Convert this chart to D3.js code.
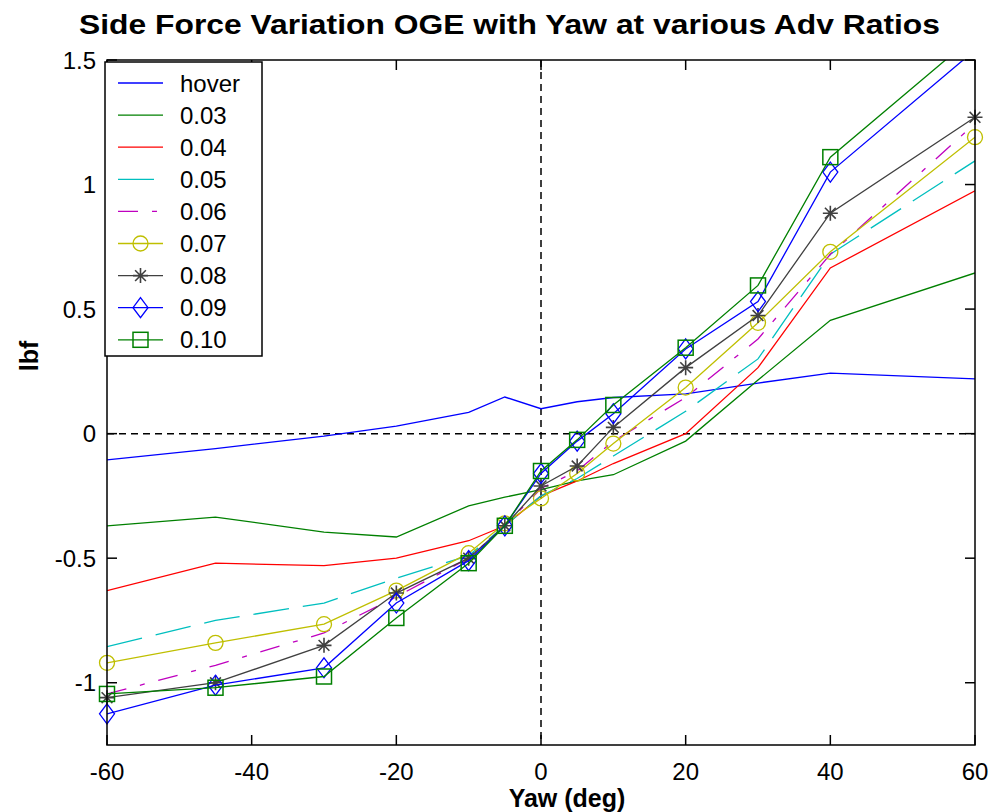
<!DOCTYPE html>
<html><head><meta charset="utf-8">
<script src="https://cdn.jsdelivr.net/npm/d3@7"></script>
<style>body{margin:0;background:#fff}svg{display:block}text{font-family:"Liberation Sans",Arial,sans-serif}</style>
</head><body>
<svg id="c" width="991" height="812"></svg>
<script>
const yaw = [-60,-45,-30,-20,-10,-5,0,5,10,20,30,40,60];
const seriesNames = ["hover","0.03","0.04","0.05","0.06","0.07","0.08","0.09","0.10"];
const hover = [-0.105,-0.06,-0.01,0.03,0.085,0.147,0.1,0.128,0.145,0.16,0.203,0.243,0.22];
const adv003 = [-0.37,-0.335,-0.395,-0.415,-0.29,-0.255,-0.225,-0.19,-0.165,-0.03,0.215,0.455,0.645];
const adv004 = [-0.63,-0.52,-0.53,-0.50,-0.43,-0.37,-0.25,-0.19,-0.12,0.0,0.265,0.665,0.975];
const adv005 = [-0.855,-0.75,-0.68,-0.58,-0.49,-0.37,-0.25,-0.18,-0.09,0.09,0.30,0.72,1.095];
const adv006 = [-1.045,-0.93,-0.80,-0.655,-0.50,-0.37,-0.22,-0.15,-0.03,0.145,0.38,0.72,1.245];
const adv007 = [-0.92,-0.84,-0.765,-0.63,-0.48,-0.36,-0.26,-0.16,-0.04,0.185,0.445,0.73,1.19];
const adv008 = [-1.06,-1.0,-0.85,-0.64,-0.50,-0.37,-0.21,-0.13,0.025,0.265,0.474,0.885,1.27];
const adv009 = [-1.125,-1.01,-0.94,-0.68,-0.51,-0.37,-0.16,-0.03,0.08,0.34,0.53,1.05,1.54];
const adv010 = [-1.045,-1.02,-0.975,-0.74,-0.52,-0.37,-0.15,-0.025,0.115,0.345,0.595,1.11,1.60];
const xTicks = [-60,-40,-20,0,20,40,60];
const yTicks = [-1,-0.5,0,0.5,1,1.5];
const yTickLabels = ["-1","-0.5","0","0.5","1","1.5"];

const allValues = [hover,adv003,adv004,adv005,adv006,adv007,adv008,adv009,adv010];
const styles = [
 {color:"#0000ff", dash:null, marker:null},
 {color:"#008000", dash:null, marker:null},
 {color:"#ff0000", dash:null, marker:null},
 {color:"#00bfbf", dash:"36,14", marker:null},
 {color:"#bf00bf", dash:"20,14,5,14", marker:null},
 {color:"#bfbf00", dash:null, marker:"circle"},
 {color:"#404040", dash:null, marker:"star"},
 {color:"#0000ff", dash:null, marker:"diamond"},
 {color:"#008000", dash:null, marker:"square"}
];

const L=107, R=975, T=60, B=745;
const svg = d3.select("#c");
const x = d3.scaleLinear().domain([-60,60]).range([L,R]);
const y = d3.scaleLinear().domain([-1.25,1.5]).range([B,T]);

svg.append("defs").append("clipPath").attr("id","clip")
  .append("rect").attr("x",L).attr("y",T).attr("width",R-L).attr("height",B-T);

// zero lines
svg.append("line").attr("x1",L).attr("x2",R).attr("y1",y(0)).attr("y2",y(0))
  .attr("stroke","#000").attr("stroke-width",1.5).attr("stroke-dasharray","7,5");
svg.append("line").attr("x1",x(0)).attr("x2",x(0)).attr("y1",T).attr("y2",B)
  .attr("stroke","#000").attr("stroke-width",1.5).attr("stroke-dasharray","7,5");

const line = d3.line().x(d=>x(d[0])).y(d=>y(d[1]));

function drawMarker(g, type, cx, cy, color){
  if(type==="circle"){
    g.append("circle").attr("cx",cx).attr("cy",cy).attr("r",7.5).attr("fill","none").attr("stroke",color).attr("stroke-width",1.3);
  } else if(type==="square"){
    g.append("rect").attr("x",cx-7.5).attr("y",cy-7.5).attr("width",15).attr("height",15).attr("fill","none").attr("stroke",color).attr("stroke-width",1.5);
  } else if(type==="diamond"){
    g.append("path").attr("d",`M${cx},${cy-10}L${cx+7.5},${cy}L${cx},${cy+10}L${cx-7.5},${cy}Z`).attr("fill","none").attr("stroke",color).attr("stroke-width",1.3);
  } else if(type==="star"){
    const r=7.5, s=r*0.72;
    g.append("path").attr("d",`M${cx-r},${cy}L${cx+r},${cy}M${cx},${cy-r}L${cx},${cy+r}M${cx-s},${cy-s}L${cx+s},${cy+s}M${cx-s},${cy+s}L${cx+s},${cy-s}`)
      .attr("stroke",color).attr("stroke-width",1.6);
  }
}

const plot = svg.append("g");
allValues.forEach((vals,i)=>{
  const st = styles[i];
  const data = yaw.map((xv,j)=>[xv,vals[j]]);
  plot.append("path").attr("d",line(data)).attr("fill","none")
    .attr("stroke",st.color).attr("stroke-width",1.3)
    .attr("stroke-dasharray",st.dash).attr("clip-path","url(#clip)");
  if(st.marker){
    data.filter(d=>d[1]<=1.5 && d[1]>=-1.25).forEach(d=>drawMarker(plot,st.marker,x(d[0]),y(d[1]),st.color));
  }
});

// axes box
svg.append("rect").attr("x",L).attr("y",T).attr("width",R-L).attr("height",B-T)
  .attr("fill","none").attr("stroke","#000").attr("stroke-width",1.5);
const tk=10;
xTicks.forEach(t=>{
  svg.append("line").attr("x1",x(t)).attr("x2",x(t)).attr("y1",B).attr("y2",B-tk).attr("stroke","#000").attr("stroke-width",1.5);
  svg.append("line").attr("x1",x(t)).attr("x2",x(t)).attr("y1",T).attr("y2",T+tk).attr("stroke","#000").attr("stroke-width",1.5);
  svg.append("text").attr("x",x(t)).attr("y",780).attr("text-anchor","middle").attr("font-size",24).text(t);
});
yTicks.forEach((t,i)=>{
  svg.append("line").attr("x1",L).attr("x2",L+tk).attr("y1",y(t)).attr("y2",y(t)).attr("stroke","#000").attr("stroke-width",1.5);
  svg.append("line").attr("x1",R).attr("x2",R-tk).attr("y1",y(t)).attr("y2",y(t)).attr("stroke","#000").attr("stroke-width",1.5);
  svg.append("text").attr("x",96).attr("y",y(t)+8.5).attr("text-anchor","end").attr("font-size",24).text(yTickLabels[i]);
});

// legend
const lg = svg.append("g");
lg.append("rect").attr("x",105).attr("y",62).attr("width",157).attr("height",294)
  .attr("fill","#fff").attr("stroke","#000").attr("stroke-width",1.5);
seriesNames.forEach((name,i)=>{
  const st=styles[i];
  const cy = 83 + i*32.1;
  lg.append("line").attr("x1",118).attr("x2",163).attr("y1",cy).attr("y2",cy)
    .attr("stroke",st.color).attr("stroke-width",1.3).attr("stroke-dasharray",st.dash);
  if(st.marker) drawMarker(lg,st.marker,140.5,cy,st.color);
  lg.append("text").attr("x",180).attr("y",cy+8.5).attr("font-size",24).text(name);
});

// title & labels
svg.append("text").attr("x",79).attr("y",34).attr("font-size",28).attr("font-weight","bold")
  .attr("textLength",861).attr("lengthAdjust","spacingAndGlyphs")
  .text("Side Force Variation OGE with Yaw at various Adv Ratios");
svg.append("text").attr("x",567).attr("y",807).attr("text-anchor","middle").attr("font-size",25).attr("font-weight","bold").text("Yaw (deg)");
svg.append("text").attr("transform","translate(38,356) rotate(-90)").attr("text-anchor","middle").attr("font-size",25).attr("font-weight","bold").text("lbf");
</script>
</body></html>
